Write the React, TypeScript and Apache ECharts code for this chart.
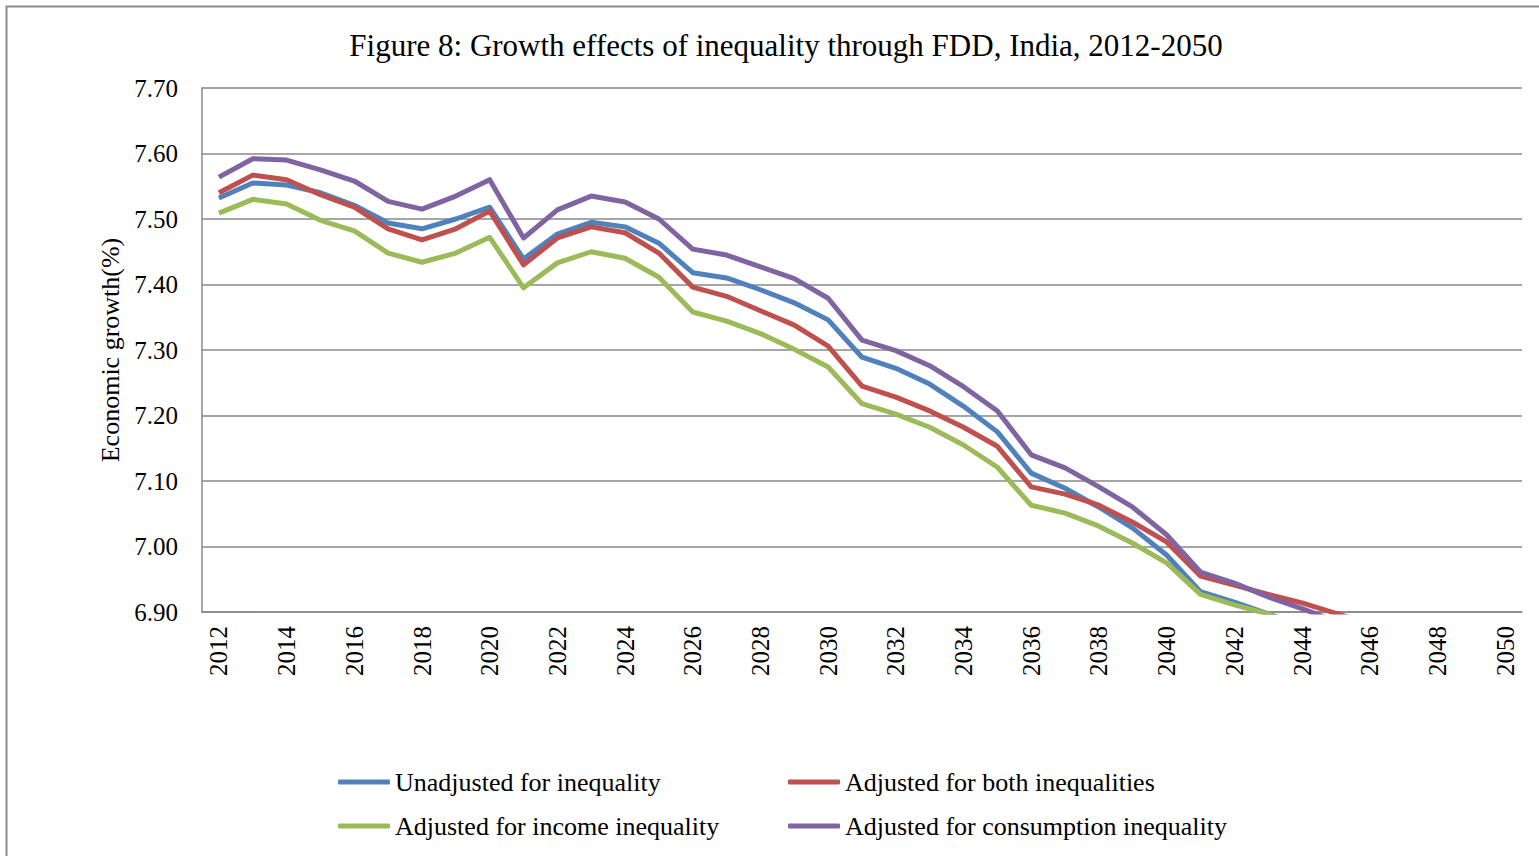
import React, { useEffect, useRef } from "react";
import * as echarts from "echarts";

const years: string[] = [];
for (let y = 2012; y <= 2050; y++) years.push(String(y));

const seriesNames = [
  "Unadjusted for inequality",
  "Adjusted for both inequalities",
  "Adjusted for income inequality",
  "Adjusted for consumption inequality",
];

const unadjusted = [
  7.532, 7.555, 7.552, 7.54, 7.521, 7.494, 7.485, 7.5, 7.518, 7.439, 7.477, 7.495, 7.488, 7.463,
  7.418, 7.41, 7.392, 7.372, 7.346, 7.289, 7.272, 7.248, 7.214, 7.175, 7.112, 7.089, 7.06, 7.028,
  6.987, 6.931, 6.915, 6.897, 6.88, 6.862, 6.845, 6.828, 6.81, 6.792, 6.775,
];
const bothAdj = [
  7.54, 7.567, 7.56, 7.537, 7.518, 7.485, 7.468, 7.485, 7.512, 7.43, 7.471, 7.488, 7.479, 7.448,
  7.396, 7.382, 7.36, 7.338, 7.306, 7.245, 7.228, 7.207, 7.182, 7.153, 7.091, 7.08, 7.063, 7.037,
  7.007, 6.955, 6.941, 6.927, 6.914, 6.898, 6.882, 6.866, 6.85, 6.834, 6.818,
];
const incomeAdj = [
  7.509, 7.53, 7.523, 7.498, 7.482, 7.448, 7.434, 7.448, 7.472, 7.395, 7.433, 7.45, 7.44, 7.411,
  7.358, 7.344, 7.325, 7.301, 7.274, 7.218, 7.202, 7.182, 7.155, 7.121, 7.063, 7.051, 7.031, 7.005,
  6.975, 6.927, 6.911, 6.897, 6.878, 6.861, 6.844, 6.827, 6.81, 6.793, 6.776,
];
const consumptionAdj = [
  7.564, 7.592, 7.59, 7.575, 7.558, 7.527, 7.515, 7.535, 7.56, 7.471, 7.514, 7.535, 7.526, 7.5,
  7.454, 7.445, 7.427, 7.409, 7.379, 7.315, 7.299, 7.276, 7.244, 7.207, 7.14, 7.12, 7.091, 7.06,
  7.018, 6.961, 6.944, 6.923, 6.905, 6.886, 6.868, 6.85, 6.832, 6.814, 6.796,
];

const colors = ["#4F81BD", "#C0504D", "#9BBB59", "#8064A2"];
const FONT = '"Liberation Serif", "Times New Roman", serif';

export default function App() {
  const ref = useRef<HTMLDivElement>(null);
  useEffect(() => {
    if (!ref.current) return;
    const chart = echarts.init(ref.current, undefined, { renderer: "svg" });
    const dataSets = [unadjusted, bothAdj, incomeAdj, consumptionAdj];
    const legendPos = [
      { left: 338, top: 769 },
      { left: 788, top: 769 },
      { left: 338, top: 813 },
      { left: 788, top: 813 },
    ];
    chart.setOption({
      animation: false,
      backgroundColor: "#ffffff",
      title: {
        text: "Figure 8: Growth effects of inequality through FDD, India, 2012-2050",
        left: 781,
        textAlign: "center",
        top: 25,
        textStyle: { fontFamily: FONT, fontSize: 31, fontWeight: "normal", color: "#000" },
      },
      legend: seriesNames.map((n, i) => ({
        data: [n],
        left: legendPos[i].left,
        top: legendPos[i].top,
        padding: 0,
        icon: "roundRect",
        itemWidth: 52,
        itemHeight: 5,
        selectedMode: false,
        textStyle: { fontFamily: FONT, fontSize: 26, color: "#000" },
      })),
      graphic: [
        {
          type: "rect",
          shape: { x: 6.5, y: 6.5, width: 1600, height: 900 },
          style: { fill: "none", stroke: "#8c8c8c", lineWidth: 2 },
          silent: true,
        },
      ],
      grid: { left: 202, right: 17, top: 88, bottom: 244 },
      xAxis: {
        type: "category",
        data: years,
        boundaryGap: true,
        axisTick: { show: false },
        axisLine: { lineStyle: { color: "#888888", width: 1.5 } },
        axisLabel: {
          interval: 1,
          rotate: 90,
          margin: 14,
          fontFamily: FONT,
          fontSize: 25,
          color: "#000",
        },
      },
      yAxis: {
        type: "value",
        min: 6.9,
        max: 7.7,
        interval: 0.1,
        name: "Economic growth(%)",
        nameLocation: "middle",
        nameRotate: 90,
        nameGap: 77,
        nameTextStyle: { fontFamily: FONT, fontSize: 26, color: "#000" },
        axisLine: { show: true, lineStyle: { color: "#888888", width: 1.5 } },
        axisTick: { show: false },
        splitLine: { lineStyle: { color: "#888888", width: 1.5 } },
        axisLabel: {
          margin: 24,
          fontFamily: FONT,
          fontSize: 25,
          color: "#000",
          formatter: (v: number) => v.toFixed(2),
        },
      },
      series: seriesNames.map((n, i) => ({
        name: n,
        type: "line",
        data: dataSets[i],
        symbol: "none",
        clip: true,
        lineStyle: { color: colors[i], width: 5, join: "round" },
        itemStyle: { color: colors[i] },
      })),
    });
    return () => chart.dispose();
  }, []);
  return (
    <div
      ref={ref}
      style={{ position: "fixed", left: 0, top: 0, width: 1539, height: 856, background: "#fff" }}
    />
  );
}
